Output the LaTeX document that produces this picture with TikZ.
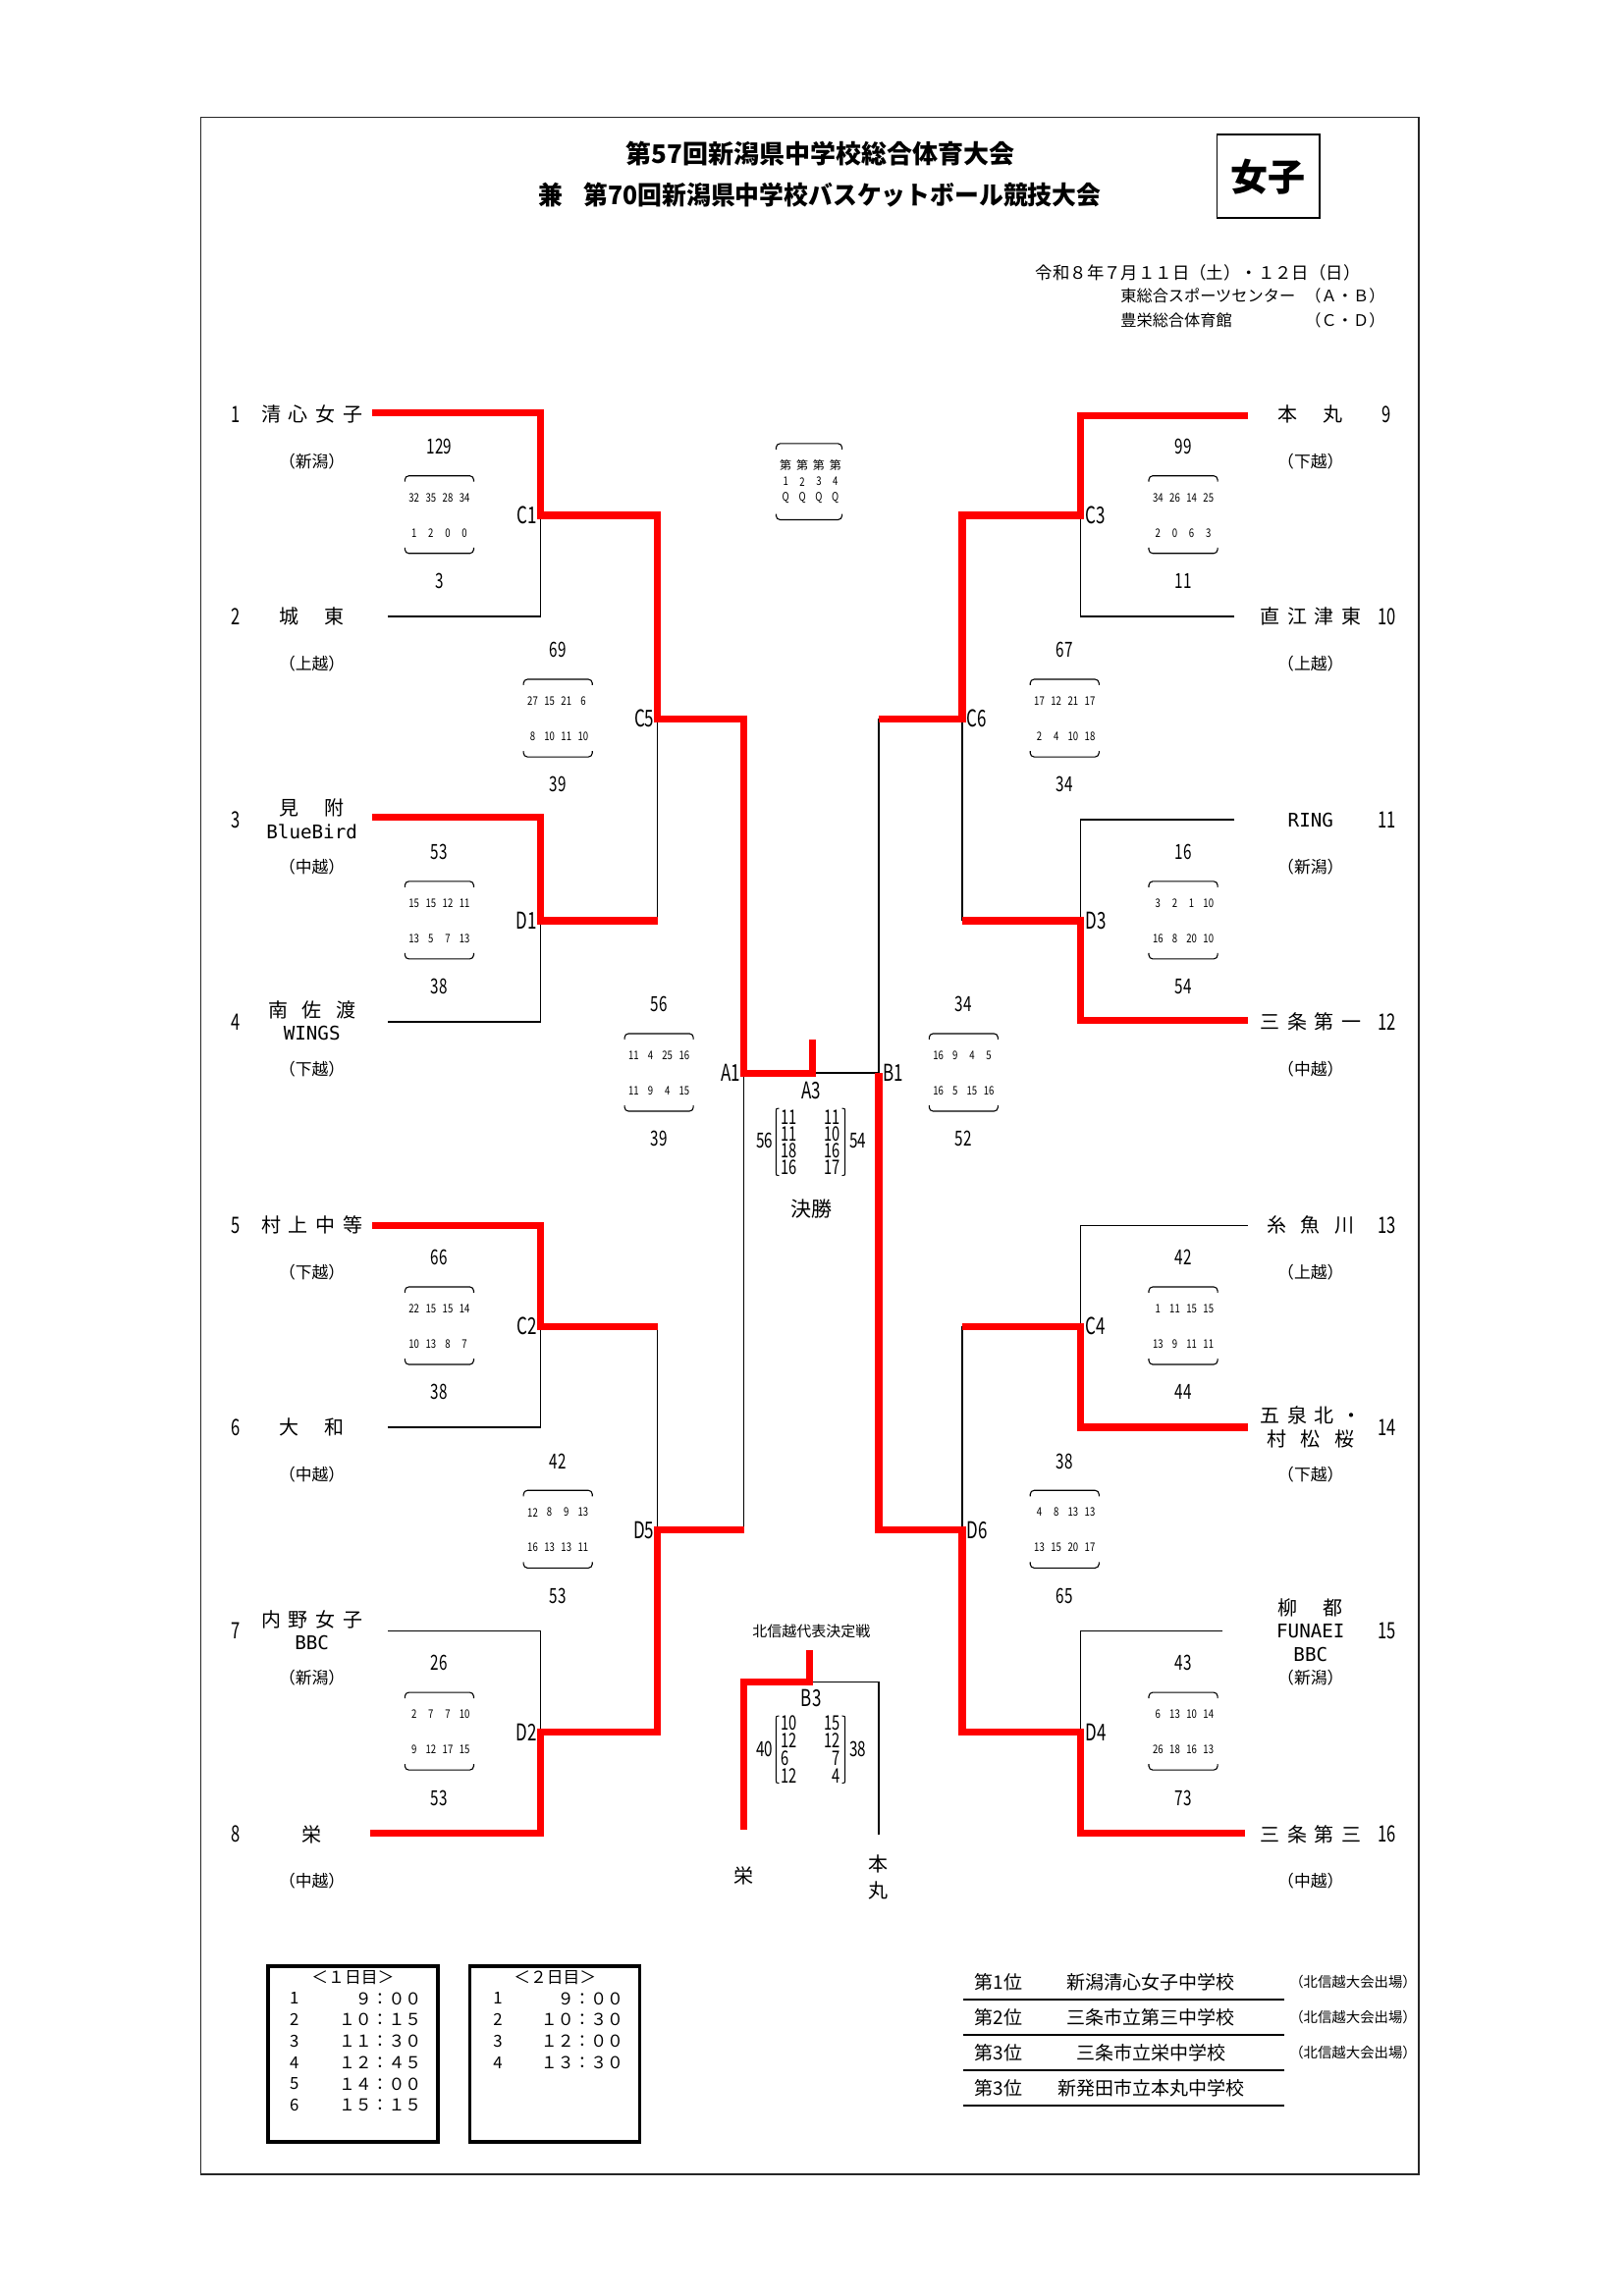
\documentclass[tikz,border=0pt]{standalone}
\usepackage{fontspec}
\setmainfont{Noto Sans CJK JP}
\newfontfamily\cnd[FakeStretch=0.8]{Noto Sans CJK JP}
\newfontfamily\cndn[FakeStretch=0.72]{Noto Sans CJK JP}
\newfontfamily\tcnd[FakeStretch=0.955]{Noto Sans CJK JP}
\newfontfamily\asc{DejaVu Sans Mono}
\newcommand\fsz[1]{\fontsize{#1}{#1}\selectfont}
\newcommand\sg{\hspace{.38em}}
\newcommand\sgm{\hspace{.72em}}
\newcommand\sgw{\hspace{1.3em}}
\newcommand\sbx[6]{%
 \node[sc] (s#1-#2a) at (#1,#2-47) {#3};
 \node[sc] (s#1-#2b) at (#1,#2+45) {#4};
 \draw[brk] (#1-23.5,#2-23) -- (#1-23.5,#2-27) -- (#1+23.5,#2-27) -- (#1+23.5,#2-23);
 \draw[brk] (#1-23.5,#2+22) -- (#1-23.5,#2+26) -- (#1+23.5,#2+26) -- (#1+23.5,#2+22);
 \foreach \v [count=\i] in {#5} \node[qs] (s#1-#2u\i) at ({#1+(\i-2.5)*11.5},#2-12) {\v};
 \foreach \v [count=\i] in {#6} \node[qs] (s#1-#2l\i) at ({#1+(\i-2.5)*11.5},#2+12) {\v};
}
\begin{document}
\begin{tikzpicture}[x=0.7457pt,y=-0.7457pt,
  bl/.style={line width=0.75pt},
  win/.style={line width=3.7pt,color=red},
  brk/.style={line width=0.55pt,rounded corners=2pt},
  tn/.style={inner sep=0pt,font=\fsz{10}},
  rg/.style={inner sep=0pt,font=\fsz{8.4}},
  en/.style={inner sep=0pt,font=\asc\fsz{9.6}},
  num/.style={inner sep=0pt,font=\cndn\fsz{11.5}},
  lab/.style={inner sep=0pt,font=\cndn\fsz{11.8}},
  sc/.style={inner sep=0pt,font=\cndn\fsz{10.6}},
  qs/.style={inner sep=0pt,font=\cnd\fsz{6}},
  mx/.style={inner sep=0pt,font=\cndn\fsz{10.2}},
  sm/.style={inner sep=0pt,font=\fsz{8.1}},
  sch/.style={inner sep=0pt,font=\fsz{8.4}},
  rk/.style={inner sep=0pt,font=\fsz{9.5}},
  rks/.style={inner sep=0pt,font=\fsz{7.2}},
]
\useasboundingbox (0,0) rectangle (1109,1568.3);
\draw[line width=0.8pt,black!85] (137,80) rectangle (969,1485);

% titles
\node[inner sep=0pt,font=\bfseries\fsz{13}] (title1) at (560,105) {第57回新潟県中学校総合体育大会};
\node[inner sep=0pt,font=\tcnd\bfseries\fsz{13}] (title2) at (560,133) {兼\hspace{0.8em}第70回新潟県中学校バスケットボール競技大会};
\node[draw,line width=0.8pt,minimum width=52.2pt,minimum height=42.5pt,inner sep=0pt,font=\bfseries\fsz{19}] (girls) at (866,120.5) {女子};
\node[sm,anchor=west,font=\fsz{8.7}] (date) at (707,186) {令和８年７月１１日（土）・１２日（日）};
\node[sm,anchor=west] (ven1) at (765,202) {東総合スポーツセンター};
\node[sm,anchor=east] (ven1b) at (946,202) {（Ａ・Ｂ）};
\node[sm,anchor=west] (ven2) at (765,219) {豊栄総合体育館};
\node[sm,anchor=east] (ven2b) at (946,219) {（Ｃ・Ｄ）};

% quarter legend
\draw[brk] (530,307) -- (530,303) -- (575,303) -- (575,307);
\draw[brk] (530,351) -- (530,355) -- (575,355) -- (575,351);
\foreach \i in {1,2,3,4} {
  \node[qs,font=\fsz{6}] (lg\i a) at ({553.5+(\i-2.5)*11.3},318) {第};
  \node[qs] (lg\i b) at ({553.5+(\i-2.5)*11.3},329) {\i};
  \node[qs] (lg\i c) at ({553.5+(\i-2.5)*11.3},340) {Q};
}

% coordinates
\coordinate (t1) at (254,282);
\coordinate (t2) at (265,421);
\coordinate (t3) at (254,558);
\coordinate (t4) at (265,698);
\coordinate (t5) at (254,837);
\coordinate (t6) at (265,975);
\coordinate (t7) at (265,1114);
\coordinate (t8) at (253,1252);
\coordinate (t9) at (852,284);
\coordinate (t10) at (843,421);
\coordinate (t11) at (843,560);
\coordinate (t12) at (852,697);
\coordinate (t13) at (852,837);
\coordinate (t14) at (852,975);
\coordinate (t15) at (835,1114);
\coordinate (t16) at (850,1252);
\coordinate (C1) at (369,352);
\coordinate (D1) at (369,629);
\coordinate (C2) at (369,906);
\coordinate (D2) at (369,1183);
\coordinate (C5) at (449,491);
\coordinate (D5) at (449,1045);
\coordinate (A1) at (508,733);
\coordinate (A3t) at (555,710);
\coordinate (B1) at (600,733);
\coordinate (C6) at (657,491);
\coordinate (D6) at (657,1045);
\coordinate (C3) at (738,352);
\coordinate (D3) at (738,629);
\coordinate (C4) at (738,906);
\coordinate (D4) at (738,1183);
\coordinate (B3t) at (553,1127);
\coordinate (B3) at (553,1149);
\coordinate (sk) at (508,1250);
\coordinate (hm) at (600,1253);

% black lines
\draw[bl] (t2) -| (C1);
\draw[bl] (t4) -| (D1);
\draw[bl] (D1 -| C5) -- (C5);
\draw[bl] (t6) -| (C2);
\draw[bl] (t7) -| (D2);
\draw[bl] (C2 -| D5) -- (D5);
\draw[bl] (D5 -| A1) -- (A1);
\draw[bl] (A1 -| A3t) -- (B1);
\draw[bl] (C6 -| B1) -- (B1);
\draw[bl] (t10) -| (C3);
\draw[bl] (t11) -| (D3);
\draw[bl] (D3 -| C6) -- (C6);
\draw[bl] (t13) -| (C4);
\draw[bl] (t15) -| (D4);
\draw[bl] (C4 -| D6) -- (D6);
\draw[bl] (B3) -| (hm);

% winners
\draw[win] (t1) -| (C1) -| (C5) -| (A1) -| (A3t);
\draw[win] (t3) -| (D1) -- (D1 -| C5);
\draw[win] (t5) -| (C2) -- (C2 -| D5);
\draw[win] (t8) -| (D2) -| (D5) -- (D5 -| A1);
\draw[win] (t9) -| (C3) -| (C6) -- (C6 -| B1);
\draw[win] (t12) -| (D3) -- (D3 -| C6);
\draw[win] (t14) -| (C4) -- (C4 -| D6);
\draw[win] (t16) -| (D4) -| (D6) -| (B1);
\draw[win] (B3t) -- (B3) -| (sk);

% match labels
\node[lab,anchor=east] (lC1) at (367,352) {C1};
\node[lab,anchor=east] (lD1) at (367,629) {D1};
\node[lab,anchor=east] (lC2) at (367,906) {C2};
\node[lab,anchor=east] (lD2) at (367,1183) {D2};
\node[lab,anchor=east] (lC5) at (447,491) {C5};
\node[lab,anchor=east] (lD5) at (447,1045) {D5};
\node[lab,anchor=east] (lA1) at (506,733) {A1};
\node[lab,anchor=west] (lC3) at (741,352) {C3};
\node[lab,anchor=west] (lD3) at (741,629) {D3};
\node[lab,anchor=west] (lC4) at (741,906) {C4};
\node[lab,anchor=west] (lD4) at (741,1183) {D4};
\node[lab,anchor=west] (lC6) at (660,491) {C6};
\node[lab,anchor=west] (lD6) at (660,1045) {D6};
\node[lab,anchor=west] (lB1) at (603,733) {B1};
\node[lab] (lA3) at (554,745) {A3};
\node[lab] (lB3) at (554,1160) {B3};

% score boxes
\sbx{300}{352}{129}{3}{32,35,28,34}{1,2,0,0}
\sbx{381}{491}{69}{39}{27,15,21,6}{8,10,11,10}
\sbx{300}{629}{53}{38}{15,15,12,11}{13,5,7,13}
\sbx{450}{733}{56}{39}{11,4,25,16}{11,9,4,15}
\sbx{300}{906}{66}{38}{22,15,15,14}{10,13,8,7}
\sbx{381}{1045}{42}{53}{12,8,9,13}{16,13,13,11}
\sbx{300}{1183}{26}{53}{2,7,7,10}{9,12,17,15}
\sbx{808}{352}{99}{11}{34,26,14,25}{2,0,6,3}
\sbx{727}{491}{67}{34}{17,12,21,17}{2,4,10,18}
\sbx{808}{629}{16}{54}{3,2,1,10}{16,8,20,10}
\sbx{658}{733}{34}{52}{16,9,4,5}{16,5,15,16}
\sbx{808}{906}{42}{44}{1,11,15,15}{13,9,11,11}
\sbx{727}{1045}{38}{65}{4,8,13,13}{13,15,20,17}
\sbx{808}{1183}{43}{73}{6,13,10,14}{26,18,16,13}

% final A3
\node[sc,anchor=east] (a3l) at (528,779) {56};
\node[sc,anchor=west] (a3r) at (580,779) {54};
\draw[line width=0.5pt] (532,757) .. controls (530,757) .. (530,760) -- (530,800) .. controls (530,803) .. (532,803);
\draw[line width=0.5pt] (575,757) .. controls (577,757) .. (577,760) -- (577,800) .. controls (577,803) .. (575,803);
\foreach \a/\b [count=\i] in {11/11,11/10,18/16,16/17} {
  \node[mx,anchor=west] (a3x\i) at (533,{751.5+\i*11.5}) {\a};
  \node[mx,anchor=east] (a3y\i) at (574,{751.5+\i*11.5}) {\b};
}
\node[inner sep=0pt,font=\fsz{10.5}] (final) at (554,826) {決勝};

% B3
\node[inner sep=0pt,font=\fsz{7.5}] (hsh) at (554,1114) {北信越代表決定戦};
\node[sc,anchor=east] (b3l) at (528,1195) {40};
\node[sc,anchor=west] (b3r) at (580,1195) {38};
\draw[line width=0.5pt] (532,1172) .. controls (530,1172) .. (530,1175) -- (530,1215) .. controls (530,1218) .. (532,1218);
\draw[line width=0.5pt] (575,1172) .. controls (577,1172) .. (577,1175) -- (577,1215) .. controls (577,1218) .. (575,1218);
\foreach \a/\b [count=\i] in {10/15,12/12,6/7,12/4} {
  \node[mx,anchor=west] (b3x\i) at (533,{1165+\i*12}) {\a};
  \node[mx,anchor=east] (b3y\i) at (574,{1165+\i*12}) {\b};
}
\node[tn] (sk3) at (508,1281) {栄};
\node[tn] (hm3a) at (600,1273) {本};
\node[tn] (hm3b) at (600,1291) {丸};

% left teams
\node[num] (n1) at (161,283) {1};
\node[tn] (nm1) at (213,283) {清\sg 心\sg 女\sg 子};
\node[rg] (r1) at (213,315) {（新潟）};
\node[num] (n2) at (161,421) {2};
\node[tn] (nm2) at (213,421) {城\sgw 東};
\node[rg] (r2) at (213,453) {（上越）};
\node[num] (n3) at (161,560) {3};
\node[tn] (nm3) at (213,552) {見\sgw 附};
\node[en] (nm3b) at (213,568) {BlueBird};
\node[rg] (r3) at (213,592) {（中越）};
\node[num] (n4) at (161,698) {4};
\node[tn] (nm4) at (213,690) {南\sgm 佐\sgm 渡};
\node[en] (nm4b) at (213,706) {WINGS};
\node[rg] (r4) at (213,730) {（下越）};
\node[num] (n5) at (161,837) {5};
\node[tn] (nm5) at (213,837) {村\sg 上\sg 中\sg 等};
\node[rg] (r5) at (213,869) {（下越）};
\node[num] (n6) at (161,975) {6};
\node[tn] (nm6) at (213,975) {大\sgw 和};
\node[rg] (r6) at (213,1007) {（中越）};
\node[num] (n7) at (161,1114) {7};
\node[tn] (nm7) at (213,1106) {内\sg 野\sg 女\sg 子};
\node[en] (nm7b) at (213,1122) {BBC};
\node[rg] (r7) at (213,1146) {（新潟）};
\node[num] (n8) at (161,1253) {8};
\node[tn] (nm8) at (213,1253) {栄};
\node[rg] (r8) at (213,1285) {（中越）};

% right teams
\node[num] (n9) at (947,283) {9};
\node[tn] (nm9) at (895,283) {本\sgw 丸};
\node[rg] (r9) at (895,315) {（下越）};
\node[num] (n10) at (947,421) {10};
\node[tn] (nm10) at (895,421) {直\sg 江\sg 津\sg 東};
\node[rg] (r10) at (895,453) {（上越）};
\node[num] (n11) at (947,560) {11};
\node[en] (nm11) at (895,560) {RING};
\node[rg] (r11) at (895,592) {（新潟）};
\node[num] (n12) at (947,698) {12};
\node[tn] (nm12) at (895,698) {三\sg 条\sg 第\sg 一};
\node[rg] (r12) at (895,730) {（中越）};
\node[num] (n13) at (947,837) {13};
\node[tn] (nm13) at (895,837) {糸\sgm 魚\sgm 川};
\node[rg] (r13) at (895,869) {（上越）};
\node[num] (n14) at (947,975) {14};
\node[tn] (nm14) at (895,967) {五\sg 泉\sg 北\sg ・};
\node[tn] (nm14b) at (895,983) {村\sgm 松\sgm 桜};
\node[rg] (r14) at (895,1007) {（下越）};
\node[num] (n15) at (947,1114) {15};
\node[tn] (nm15) at (895,1098) {柳\sgw 都};
\node[en] (nm15b) at (895,1114) {FUNAEI};
\node[en] (nm15c) at (895,1130) {BBC};
\node[rg] (r15) at (895,1146) {（新潟）};
\node[num] (n16) at (947,1253) {16};
\node[tn] (nm16) at (895,1253) {三\sg 条\sg 第\sg 三};
\node[rg] (r16) at (895,1285) {（中越）};

% schedule boxes
\draw[line width=1.6pt] (183,1343) rectangle (299,1463);
\draw[line width=1.6pt] (321,1343) rectangle (437,1463);
\node[sch] (d1t) at (241,1351) {＜１日目＞};
\node[sch] (d2t) at (379,1351) {＜２日目＞};
\foreach \t [count=\i] in {９：００,１０：１５,１１：３０,１２：４５,１４：００,１５：１５} {
  \node[sch] (d1n\i) at (201,{1350.5+\i*14.6}) {\i};
  \node[sch,anchor=east] (d1v\i) at (288,{1350.5+\i*14.6}) {\t};
}
\foreach \t [count=\i] in {９：００,１０：３０,１２：００,１３：３０} {
  \node[sch] (d2n\i) at (340,{1350.5+\i*14.6}) {\i};
  \node[sch,anchor=east] (d2v\i) at (426,{1350.5+\i*14.6}) {\t};
}

% ranking
\foreach \p/\s/\y [count=\i] in {第1位/新潟清心女子中学校/1354,第2位/三条市立第三中学校/1378,第3位/三条市立栄中学校/1402,第3位/新発田市立本丸中学校/1426} {
  \node[rk] (rp\i) at (682,\y) {\p};
  \node[rk] (rs\i) at (786,\y) {\s};
  \draw[line width=1.1pt] (658,\y+12) -- (877,\y+12);
}
\foreach \y [count=\i] in {1354,1378,1402} {
  \node[rks] (rq\i) at (924,\y) {（北信越大会出場）};
}
\end{tikzpicture}
\end{document}
